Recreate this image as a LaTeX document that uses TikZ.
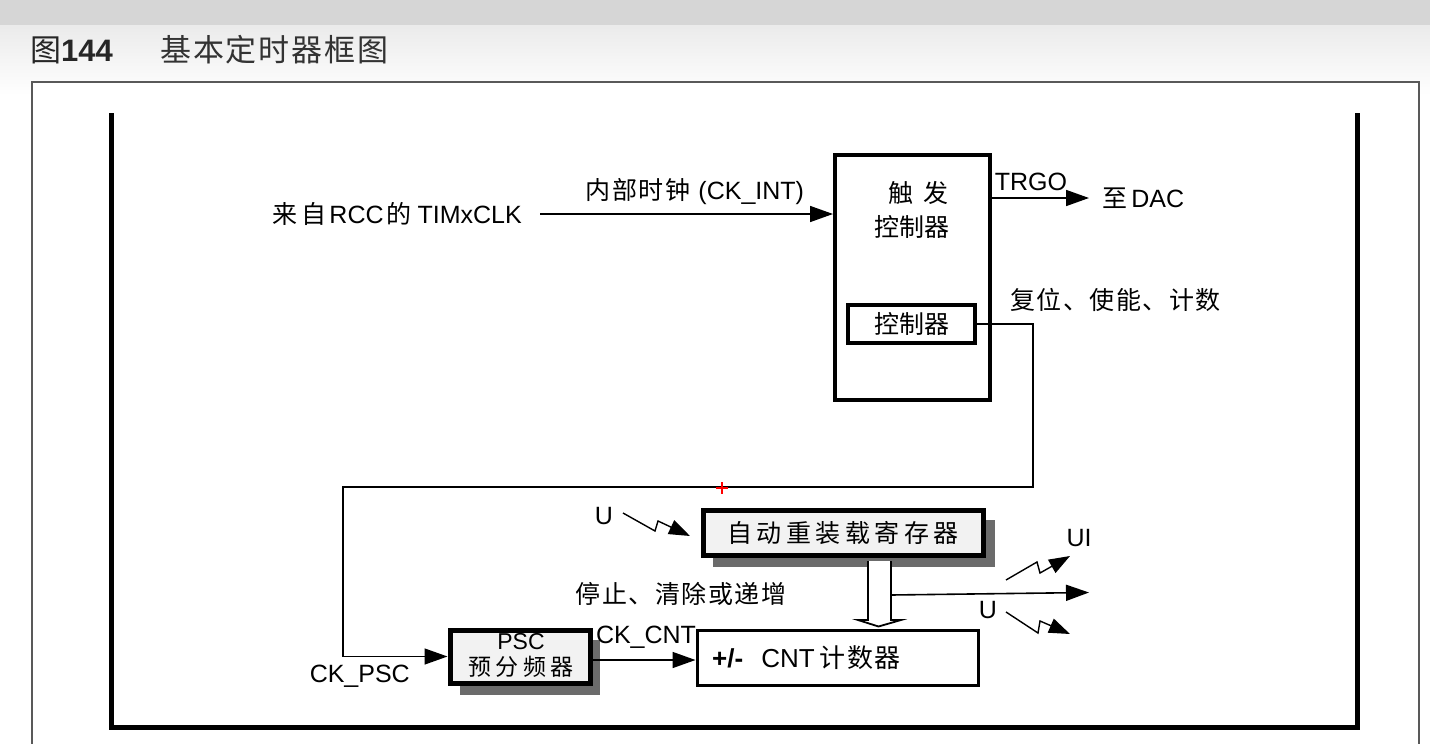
\documentclass[tikz,border=0pt]{standalone}
\usepackage{fontspec}
\setmainfont{Liberation Sans}
\newfontfamily\cjk{Noto Sans CJK SC}
\newfontfamily\cjksp[LetterSpace=18]{Noto Sans CJK SC}
\newfontfamily\cjkss[LetterSpace=6]{Noto Sans CJK SC}
\usetikzlibrary{arrows.meta,calc}
\begin{document}
\begin{tikzpicture}[x=1pt,y=-1pt,
  lbl/.style={inner sep=0pt, font=\fontsize{25}{28}\selectfont},
  ln/.style={line width=1.6pt},
  arr/.style={line width=1.6pt, -{Triangle[length=23pt,width=16pt]}},
  zarr/.style={line width=1.4pt, -{Triangle[length=21pt,width=15pt]}, line join=miter},
  tbox/.style={draw, line width=4pt, inner sep=0pt, fill=white, font=\fontsize{25}{28}\selectfont},
  gbox/.style={draw, line width=5pt, inner sep=0pt, fill=black!5, font=\fontsize{24}{27}\selectfont},
  shadowc/.style={fill=black!58, draw=none}
]
\useasboundingbox (0,0) rectangle (1430,744);
% background
\fill[white] (0,0) rectangle (1430,744);
\shade[top color=black!8, bottom color=white] (0,25) rectangle (1430,95);
\fill[black!16] (0,0) rectangle (1430,25);
% title
\node[inner sep=0pt, anchor=west, text=black!85] (fig) at (30,50) {{\fontsize{31}{34}\selectfont\cjk 图}{\fontsize{31}{34}\selectfont\bfseries 144}};
\node[inner sep=0pt, anchor=west, text=black!80] (title) at (160,50) {\fontsize{31}{34}\selectfont\cjkss 基本定时器框图};
% outer frame
\draw[line width=2pt, draw=black!65, fill=white] (32,760) -- (32,82) -- (1419,82) -- (1419,760);
% inner U frame
\draw[line width=5pt, line join=miter] (111,113) -- (111,727) -- (1357,727) -- (1357,113);

% trigger controller
\node[tbox, minimum width=155pt, minimum height=245pt] (trig) at (912.5,277.5) {};
\node[lbl] (trigA) at (918,193) {\cjk 触\hspace{10pt}发};
\node[lbl] (trigB) at (912,227) {\cjk 控制器};
\node[tbox, minimum width=127pt, minimum height=38pt] (ctrl) at (911.5,324) {\cjk 控制器};

% input clock
\node[lbl, anchor=east] (src) at (522,214) {{\cjk 来\hspace{4pt}自\hspace{3pt}}RCC{\cjk\hspace{3pt}的}\hspace{6pt}TIMxCLK};
\coordinate (inS) at (540,214);
\draw[arr] (inS) -- (inS -| trig.west);
\node[lbl] (ckint) at (695,192) {{\cjkss 内部时钟}\hspace{8pt}(CK\_INT)};

% TRGO
\node[lbl, anchor=west] (dac) at (1102,198) {{\cjk 至}\,DAC};
\coordinate (trgS) at (trig.east |- dac.west);
\draw[arr] (trgS) -- ([xshift=-13pt]dac.west);
\node[lbl] (trgo) at (1031,182) {TRGO};
\node[lbl, anchor=west] (rst) at (1010,300) {\cjkss 复位、使能、计数};

% PSC with shadow
\fill[shadowc] (460,640) rectangle (600,695);
\node[gbox, minimum width=140pt, minimum height=53pt, align=center] (psc) at (520,656.5) {};
\node[lbl, font=\fontsize{23}{25}\selectfont] (pscA) at (521,642) {PSC};
\node[lbl, font=\fontsize{23}{25}\selectfont] (pscB) at (521,667) {\cjksp 预分频器};
\node[lbl, anchor=east] (ckpsc) at (410,676) {CK\_PSC};

% control path
\coordinate (c1) at (1033,324);
\coordinate (c2) at (343,487);
\draw[arr, line width=1.4pt] (ctrl.east) -- (c1) |- (c2) |- (psc.west);

% auto reload register with shadow
\fill[shadowc] (713,520) rectangle (995,567);
\node[gbox, minimum width=280pt, minimum height=45pt, font=\fontsize{25}{27}\selectfont] (arr) at (843,533) {\cjksp 自动重装载寄存器};

% counter
\node[draw, line width=3pt, inner sep=0pt, fill=white, minimum width=281pt, minimum height=55pt] (cnt) at (837.5,657.5) {};
\node[lbl, anchor=west, font=\fontsize{26}{28}\selectfont] (cntt) at (712,658) {\textbf{+/-}\hspace{18pt}CNT\hspace{5pt}{\cjkss 计数器}};

% CK_CNT
\draw[arr] (psc.east |- 0,660) -- (cnt.west |- 0,660);
\node[lbl] (ckcnt) at (646,637) {CK\_CNT};
\node[lbl] (stop) at (681,594) {\cjkss 停止、清除或递增};

% hollow transfer arrow
\draw[line width=1.8pt, line join=miter, fill=white]
  ($(arr.south)+(25,3)$) -- ($(arr.south)+(25,62)$) -- ($(arr.south)+(15,62)$)
  -- ($(cnt.north)+(41,-2)$) -- ($(arr.south)+(58,62)$) -- ($(arr.south)+(48,62)$)
  -- ($(arr.south)+(48,3)$);
% output arrow
\coordinate (oS) at ($(arr.south)+(48,37)$);
\coordinate (oE) at (1089,592.5);
\draw[arr] (oS) -- (oE);

% lightning arrows
\node[lbl] (u1) at (604,516) {U};
\draw[zarr] (623,513) -- (655,531) -- (658,521) -- (690,536);
\node[lbl] (ui) at (1079,538) {UI};
\draw[zarr] (1006,580) -- (1037,562) -- (1040,573) -- (1070,556);
\node[lbl] (u2) at (988,610) {U};
\draw[zarr] (1006,612) -- (1038,633) -- (1040,621) -- (1070,634);

% red cursor mark
\draw[red, line width=1.4pt] (716,488) -- (728,488) (722,482) -- (722,494);
\end{tikzpicture}
\end{document}
